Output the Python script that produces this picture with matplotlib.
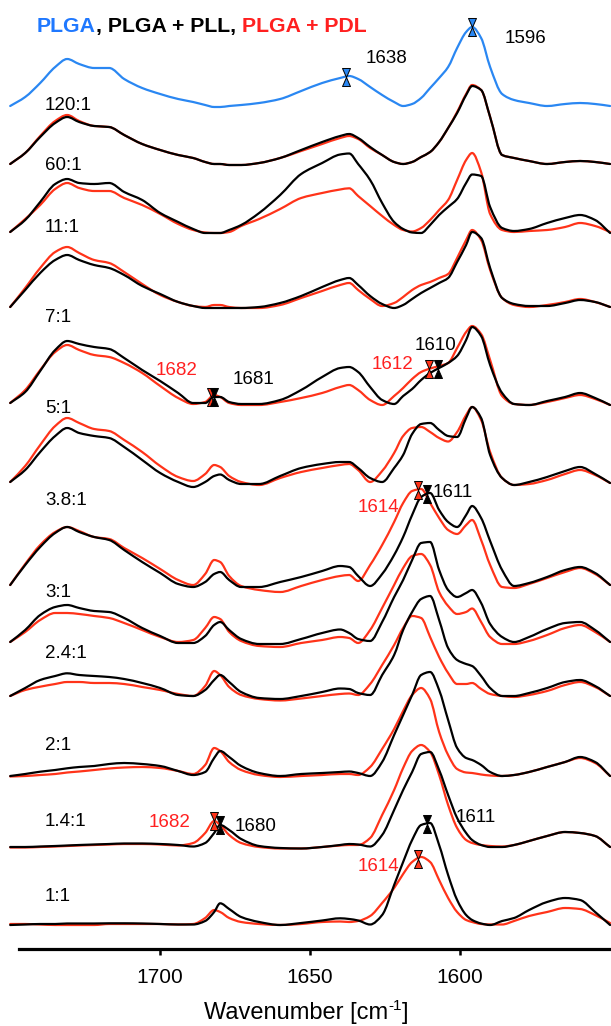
import numpy as np
import matplotlib
matplotlib.use("Agg")
import matplotlib.pyplot as plt
from matplotlib.path import Path
from matplotlib.patches import PathPatch
from matplotlib import font_manager as fm

# ---------------- data ----------------
wavenumber = [1750, 1745, 1740, 1735, 1731, 1727, 1722, 1717, 1712, 1706, 1700, 1694,
              1689, 1685, 1682, 1680, 1677, 1673, 1667, 1660, 1653, 1646, 1640, 1637,
              1634, 1630, 1626, 1622, 1619, 1616, 1613, 1610, 1607, 1604, 1601, 1598,
              1596, 1593, 1590, 1586, 1582, 1577, 1571, 1565, 1560, 1555, 1550]

plga = [1, 10, 24, 40, 48, 43, 39, 39, 28, 19, 13, 8, 5, 2, 0, 0, 1, 2, 4, 8, 16, 24, 29, 31,
        28, 20, 12, 5, 1, 3, 9, 19, 29, 40, 59, 75, 80, 69, 40, 13, 7, 4, 1, 3, 4, 3, 1]

pll_120 = [1, 12, 28, 42, 48, 43, 39, 38, 30, 21, 15, 10, 7, 3, 1, 1, 0, 0, 2, 7, 15, 23, 29, 31,
           27, 18, 10, 3, 1, 3, 8, 13, 23, 37, 52, 70, 79, 75, 48, 10, 7, 4, 1, 3, 4, 3, 1]
pdl_120 = [1, 12, 29, 44, 50, 44, 39, 38, 30, 21, 15, 10, 7, 3, 1, 1, 0, 0, 2, 7, 14, 21, 27, 29,
           26, 17, 10, 3, 1, 3, 8, 13, 23, 37, 53, 71, 80, 75, 48, 10, 7, 4, 1, 3, 4, 3, 1]

pll_60 = [1, 13, 31, 49, 54, 50, 49, 50, 41, 33, 20, 11, 4, 0, 0, 0, 3, 8, 20, 38, 59, 70, 78.5, 79.5,
          69, 53, 30, 11, 4, 0.5, 0, 8, 18, 26, 34, 50, 58.5, 57, 26, 5, 2, 4, 10, 15, 18, 13, 0]
pdl_60 = [1, 14, 28, 44, 50, 45, 42, 42, 35, 28, 19, 9, 3, 0.5, 0, 0, 1, 7, 14, 24, 35, 40, 43.5, 44.7,
          37, 27, 17, 8, 3, 1.5, 5, 13, 23, 33, 53, 73, 80, 61, 19, 3, 1, 2, 3, 6, 10, 7, 1]

pll_11 = [1, 18, 35, 48, 53, 48, 43, 40, 33, 22, 14, 6, 2, 0, 0, 0, 0, 0, 1, 5, 12, 21, 28, 30,
          23, 12, 4, 0, 3, 9, 15, 20, 25, 30, 46, 63, 76, 70, 40, 10, 4, 2, 2, 5, 8, 6, 1]
pdl_11 = [1, 20, 40, 56, 61, 55, 48, 45, 36, 24, 13, 6, 2, 1, 3, 3, 1, 0, 0, 3, 10, 17, 23, 25,
          18, 9, 2, 5, 11, 18, 23, 26, 30, 34, 50, 68, 78, 68, 38, 10, 3, 1, 3, 6, 9, 6, 1]

pll_7 = [2, 13, 34, 55, 64, 61, 58, 56, 47, 35, 24, 12, 2, 2, 8, 8, 3, 1, 1, 5, 15, 28, 37, 38,
         33, 18, 5, 1, 9, 16, 25, 32, 37, 42, 49, 65, 78, 69, 40, 12, 1, 0, 4, 8, 12, 7, 0]
pdl_7 = [2, 15, 35, 53, 60, 55, 50, 48, 42, 32, 19, 7, 1, 3, 10, 8, 2, 0, 0, 3, 7, 12, 18, 20,
         15, 5, 0, 9, 17, 26, 33, 36.5, 39, 42, 57, 73, 79, 71, 45, 9, 1, 0, 3, 7, 10, 6, 0]

pll_5 = [5, 17, 35, 51, 59, 54, 51, 49, 40, 27, 14, 5, 0, 5, 11, 12.5, 7, 3, 3, 11, 19, 23, 25, 25,
         19, 9, 5, 19, 32, 53, 63, 64, 57, 51, 50, 69, 80, 69, 32, 9, 2, 5, 10, 16, 20, 13, 4]
pdl_5 = [5, 21, 42, 61, 69, 64, 58, 56, 47, 35, 21, 10, 6, 13, 22, 20, 11, 5, 2, 9, 15, 19, 22, 23,
         17, 5, 16, 34, 51, 59, 60, 55, 49, 45.5, 55, 72, 80, 67, 35, 9, 2, 3, 7, 13, 17, 12, 4]

pll_38 = [3, 23, 41, 55, 61, 56, 51, 48, 38, 26, 15, 4, 1, 6, 14, 16, 8, 1, 1, 6, 11, 17, 22, 21,
          12, 2, 14, 33, 51, 73, 91, 95, 78, 66, 61, 73, 82, 70, 47, 18, 2, 5, 11, 18, 21, 15, 3]
pdl_38 = [3, 24, 43, 56, 61, 57, 51, 49, 40, 30, 19, 8, 3, 14, 28, 26, 12, 2, -2, -4, 2, 8, 12, 13,
          7, 23, 43, 66, 85, 97, 99, 85, 70, 58, 54, 63, 68, 48, 23, 1, 0, 4, 10, 16, 20, 14, 3]

pll_3 = [2, 14, 29, 37, 39, 36, 33, 32, 26, 16, 8, 1, 1, 8, 19, 22, 14, 5, 0, 0, 5, 11, 14.5, 11,
         5, 3, 22, 47, 64, 84, 101, 102, 74, 54, 47, 51, 54, 41, 20, 7, 2, 7, 15, 21, 22, 14, 2]
pdl_3 = [2, 12, 24, 31, 31, 30, 28, 26, 21, 14, 7, 2, 4, 16, 27, 25, 12, 3, -2, -3, 1, 4, 7, 6,
         1, 14, 36, 59, 76, 88, 90, 79, 52, 38, 30, 32, 35.5, 22, 7, 0, 0, 3, 9, 16, 19, 12, 2]

pll_24 = [2, 10, 18, 22, 24.7, 23, 22, 21, 19, 15, 10, 3, 2, 8, 18, 23, 16, 6, 0, -1, 2, 6, 9.5, 9,
          5, 3, 23, 43, 68, 86, 99, 102, 78, 50, 38, 34, 32, 22, 10, 2, 2, 5, 10, 16, 18, 12, 2]
pdl_24 = [2, 8, 11.3, 14, 16, 16, 15, 15, 14, 11, 8, 4, 2, 12, 27, 23, 11, 3, -1, -2.5, -0.5, 2, 4, 4.5,
          3, 14, 33, 53, 70, 82, 80, 61, 41, 25, 14, 14, 15, 9, 4, 2, 1, 3, 7, 13, 16, 11, 2]

pll_2 = [1, 3, 5.3, 7, 8.7, 10, 11, 13, 14, 13, 11, 6, 2, 5, 19, 26, 20, 11, 4, 1, 3, 4, 5, 5.5,
         4, 1, 15, 42, 62, 82, 102, 105, 87, 57, 29, 19, 17, 12, 5, 1, 2, 5, 10, 15, 20, 15, 1]
pdl_2 = [0.5, 1, 2, 3, 4.5, 5.5, 7, 8.5, 9.5, 10, 9, 6, 3, 12, 29, 26, 15, 7, 2, 0, 1, 2, 3, 3,
         2, 10, 28, 48, 66, 82, 89, 78, 45, 22, 8, 4.5, 4, 2.5, 1.5, 1, 2, 5, 10, 15, 19, 14, 1]

pll_14 = [2, 2, 2.5, 3, 3.5, 4, 4.5, 5, 5.5, 5.5, 5, 4, 2.5, 6, 16, 24, 19, 10, 3, 1, 0.5, 2, 4, 5,
          4.5, 2.5, 14, 39, 59, 77, 95, 97, 79, 54, 31, 16, 9, 4, 2, 2, 4, 8, 13, 17, 16, 13, 2]
pdl_14 = [1.5, 1.5, 2, 2.5, 3, 3.5, 4, 4.5, 5, 5, 4.5, 3.5, 6, 16, 28, 24, 14, 6, 2, 0.5, 0.5, 2, 3.5, 4,
          4, 11, 34, 59, 81, 98, 104, 97, 74, 44, 21, 9, 6, 4, 3, 2.5, 4, 8, 13, 17, 16, 13, 2]

pll_1 = [1, 1.5, 2, 2, 2.5, 2.5, 2.5, 2.7, 2.7, 2.5, 2, 1.5, 1.5, 5, 14, 22.7, 17, 9, 4, 1, 3, 5.5, 7.7, 7,
         5.5, 1.5, 11, 41, 64, 86, 101, 103, 81, 51, 26, 11, 6, 2.5, 1, 5, 8, 16, 24, 28, 26, 14, 1]
pdl_1 = [2, 2, 1.5, 1, 1, 1, 1, 2, 2, 2, 2, 1.5, 2, 8, 16, 14, 8, 4, 2, 1, 2, 4, 4.5, 4,
         5, 10, 23, 38, 52, 64, 69, 64, 46, 28, 14, 6, 4, 2, 1.5, 1.5, 5, 10, 14, 18, 17, 11, 3]

ratios = ["120:1", "60:1", "11:1", "7:1", "5:1", "3.8:1", "3:1", "2.4:1", "2:1", "1.4:1", "1:1"]
pll_series = [pll_120, pll_60, pll_11, pll_7, pll_5, pll_38, pll_3, pll_24, pll_2, pll_14, pll_1]
pdl_series = [pdl_120, pdl_60, pdl_11, pdl_7, pdl_5, pdl_38, pdl_3, pdl_24, pdl_2, pdl_14, pdl_1]

# peak annotations: (group index or -1 for PLGA, series, marker wavenumber, label)
peak_marks = [(-1, "plga", 1638, "1638"), (-1, "plga", 1596, "1596"),
              (3, "pdl", 1683, "1682"), (3, "pll", 1682, "1681"),
              (3, "pdl", 1610.5, "1612"), (3, "pll", 1607.5, "1610"),
              (5, "pdl", 1614, "1614"), (5, "pll", 1611, "1611"),
              (9, "pdl", 1682, "1682"), (9, "pll", 1680, "1680"),
              (10, "pll", 1611, "1611"), (10, "pdl", 1614, "1614")]

# ---------------- layout / style ----------------
W, H = 611, 1026
AX_BOTTOM_PX = 949
plga_base = 107
group_base = [165, 233, 308, 405, 487, 588, 644, 698, 777, 849, 926]
label_baseline = [110, 170, 232, 322, 413, 505, 597, 658, 750, 826, 901]
peak_label_pos = [(366, 63), (505, 43), (156, 375), (233, 384), (372, 369), (415, 350),
                  (358, 512), (433, 497), (149, 827), (235, 831), (456, 822), (358, 871)]

BLUE = "#2a87f2"
BLUE_TXT = "#1f78ff"
RED = "#ff3319"
RED_TXT = "#ff2020"
LW = 1.6

names = {f.name for f in fm.fontManager.ttflist}
REG = "Liberation Sans"
if "Liberation Sans Narrow" in names:
    NARROW, SMALL, TICK = "Liberation Sans Narrow", 15, 16.5
else:
    NARROW, SMALL, TICK = REG, 13.5, 15
plt.rcParams["font.family"] = [REG, "DejaVu Sans"]

fig = plt.figure(figsize=(W / 100, H / 100), dpi=100)
ax = fig.add_axes([0, (H - AX_BOTTOM_PX) / H, 1, AX_BOTTOM_PX / H])
ax.set_xlim(1753.4, 1549.7)
ax.set_ylim(0, AX_BOTTOM_PX)

wn = np.array(wavenumber, dtype=float)


def yoff(base_px):
    return AX_BOTTOM_PX - base_px


def smooth_line(x, y, color, z):
    """Draw a smooth (monotone cubic Bezier) line through the data points."""
    x = np.asarray(x, float)
    y = np.asarray(y, float)
    h = np.diff(x)
    d = np.diff(y) / h
    m = np.zeros_like(y)
    m[0], m[-1] = d[0], d[-1]
    for k in range(1, len(y) - 1):
        if d[k - 1] * d[k] > 0:
            w1 = 2 * h[k] + h[k - 1]
            w2 = h[k] + 2 * h[k - 1]
            m[k] = (w1 + w2) / (w1 / d[k - 1] + w2 / d[k])
    verts = [(x[0], y[0])]
    codes = [Path.MOVETO]
    for k in range(len(x) - 1):
        verts += [(x[k] + h[k] / 3, y[k] + m[k] * h[k] / 3),
                  (x[k + 1] - h[k] / 3, y[k + 1] - m[k + 1] * h[k] / 3),
                  (x[k + 1], y[k + 1])]
        codes += [Path.CURVE4] * 3
    ax.add_patch(PathPatch(Path(verts, codes), fill=False, edgecolor=color, lw=LW,
                           joinstyle="round", capstyle="round", zorder=z,
                           transform=ax.transData))


curves = {(-1, "plga"): np.array(plga, float) + yoff(plga_base)}
smooth_line(wn, curves[(-1, "plga")], BLUE, 3)
for i in range(len(ratios)):
    off = yoff(group_base[i])
    curves[(i, "pdl")] = np.array(pdl_series[i], float) + off
    curves[(i, "pll")] = np.array(pll_series[i], float) + off
    smooth_line(wn, curves[(i, "pdl")], RED, 2)
    smooth_line(wn, curves[(i, "pll")], "black", 3)

# hourglass markers
hg = Path([(-0.44, 1), (0.44, 1), (0, 0), (-0.44, 1),
           (-0.44, -1), (0.44, -1), (0, 0), (-0.44, -1)],
          [Path.MOVETO, Path.LINETO, Path.LINETO, Path.CLOSEPOLY,
           Path.MOVETO, Path.LINETO, Path.LINETO, Path.CLOSEPOLY])
fill = {"plga": BLUE, "pdl": RED, "pll": "black"}
tcol = {"plga": "black", "pdl": RED_TXT, "pll": "black"}


def ftext(xpx, ypx, s, **kw):
    return fig.text(xpx / W, 1 - ypx / H, s, va="baseline", ha="left", **kw)


for (g, ser, mw, lab), (lx, ly) in zip(peak_marks, peak_label_pos):
    yc = np.interp(mw, wn[::-1], curves[(g, ser)][::-1])
    ax.plot([mw], [yc], marker=hg, ms=13, mfc=fill[ser], mec="black", mew=0.7,
            ls="none", zorder=6)
    ftext(lx, ly, lab, color=tcol[ser], fontsize=SMALL, family=NARROW)

# ratio labels
for lab, by in zip(ratios, label_baseline):
    ftext(45, by, lab, color="black", fontsize=SMALL, family=NARROW)

r = fig.canvas.get_renderer()


def text_width(s, **kw):
    """Width in px of s (robust to trailing spaces)."""
    a = fig.text(0, 0, s + "P", **kw)
    b = fig.text(0, 0, "P", **kw)
    wv = a.get_window_extent(r).width - b.get_window_extent(r).width
    a.remove()
    b.remove()
    return wv


# title with coloured parts
title_parts = [("PLGA", BLUE_TXT), (", PLGA + PLL, ", "black"), ("PLGA + PDL", RED_TXT)]
tkw = dict(fontsize=15.3, fontweight="bold", family=REG)
prefix = ""
for s, c in title_parts:
    w = text_width(prefix, **tkw) if prefix else 0
    ftext(37 + w, 32, s, color=c, **tkw)
    prefix += s

# x label with superscript "-1"
lkw = dict(fontsize=17, family=REG)
skw = dict(fontsize=11, family=REG)
w_main = text_width("Wavenumber [cm", **lkw)
w_sup = text_width("-1", **skw)
w_end = text_width("]", **lkw)
x0 = 306.5 - (w_main + w_sup + w_end) / 2
ftext(x0, 1019, "Wavenumber [cm", **lkw)
ftext(x0 + w_main, 1010, "-1", **skw)
ftext(x0 + w_main + w_sup, 1019, "]", **lkw)

# axis styling
for sp in ["top", "left", "right"]:
    ax.spines[sp].set_visible(False)
ax.spines["bottom"].set_linewidth(2.3)
ax.spines["bottom"].set_bounds(1747, 1549.7)
ax.set_yticks([])
ax.set_xticks([1700, 1650, 1600])
ax.tick_params(axis="x", direction="out", length=4, width=1.8, pad=10, labelsize=TICK)
for t in ax.get_xticklabels():
    t.set_fontfamily(NARROW)
ax.patch.set_visible(False)

fig.savefig("out.png", dpi=100)
